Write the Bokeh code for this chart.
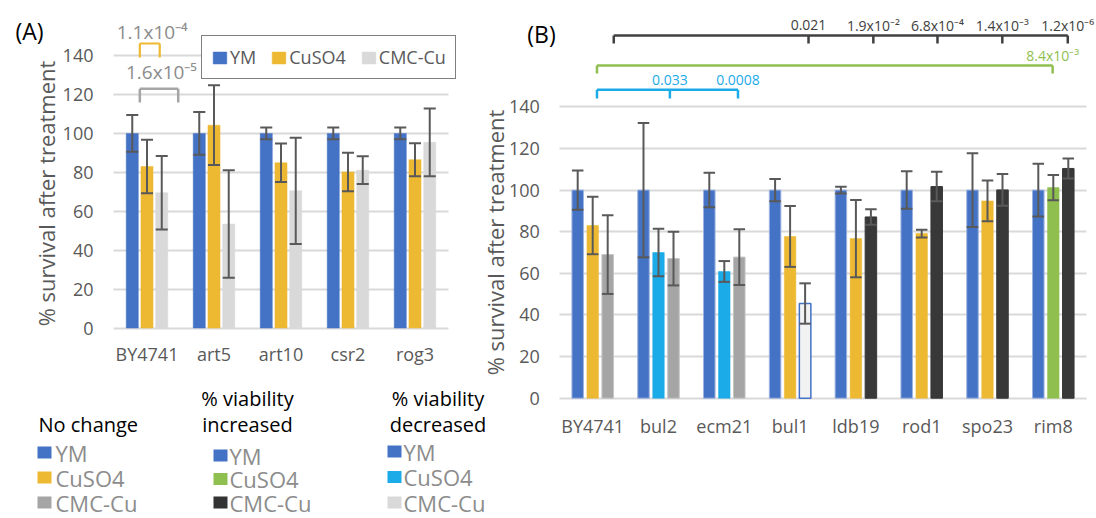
import math
from bokeh.plotting import figure
from bokeh.models import (Range1d, FixedTicker, Legend, LegendItem, Label, ColumnDataSource,
                          LinearAxis, Grid)
from bokeh.core.properties import value
from bokeh.embed import file_html
from bokeh.resources import INLINE

# ---------------- data ----------------
cats_a = ["BY4741", "art5", "art10", "csr2", "rog3"]
a_ym = [100, 100, 100, 100, 100]
a_ym_err = [9.4, 11.0, 3.0, 3.0, 3.0]
a_cu = [83, 104.2, 84.9, 80.2, 86.5]
a_cu_err = [13.7, 20.5, 9.9, 9.9, 8.5]
a_cmc = [69.5, 53.4, 70.5, 81.1, 95.4]
a_cmc_err = [18.9, 27.6, 27.3, 7.1, 17.4]
a_series = ["YM", "CuSO4", "CMC-Cu"]
a_pvals = ["1.1x10\u207b\u2074", "1.6x10\u207b\u2075"]

cats_b = ["BY4741", "bul2", "ecm21", "bul1", "ldb19", "rod1", "spo23", "rim8"]
b_ym = [100, 100, 100, 100, 100, 100, 100, 100]
b_ym_err = [9.4, 32.3, 8.3, 5.3, 1.6, 9.0, 17.7, 12.7]
b_cu = [83, 70, 60.9, 77.7, 76.7, 79.1, 94.8, 101.2]
b_cu_err = [13.8, 11.4, 5.0, 14.6, 18.6, 1.9, 9.8, 6.1]
b_cmc = [69, 67.1, 67.8, 45.5, 87.1, 101.7, 100.1, 110.4]
b_cmc_err = [18.9, 12.9, 13.4, 9.7, 3.7, 7.1, 7.6, 4.8]
b_black_pvals = ["0.021", "1.9x10\u207b\u00b2", "6.8x10\u207b\u2074", "1.4x10\u207b\u00b3", "1.2x10\u207b\u2076"]
b_green_pvals = ["8.4x10\u207b\u00b3"]
b_blue_pvals = ["0.033", "0.0008"]

y_ticks = [0, 20, 40, 60, 80, 100, 120, 140]
y_title = "% survival after treatment"
legend_titles = [["No change"], ["% viability", "increased"], ["% viability", "decreased"]]
legend_labels = ["YM", "CuSO4", "CMC-Cu"]

# ---------------- styles / layout ----------------
W, H = 1096, 518
FONT = "Open Sans"
AX = "#595959"
BLUE = "#4472c4"
YEL = "#edb932"
GRA_L = "#d9d9d9"
GRA = "#a5a5a5"
CYAN = "#1aabe8"
GREEN = "#8fbf4f"
BLACK = "#383838"
LIGHT = "#f2f2f2"
ERR = "#595959"

b_cu_fill = [YEL, CYAN, CYAN, YEL, YEL, YEL, YEL, GREEN]
b_cmc_fill = [GRA, GRA, GRA, LIGHT, BLACK, BLACK, BLACK, BLACK]
b_cmc_line = ["#c4c4c4", "#c4c4c4", "#c4c4c4", BLUE, BLACK, BLACK, BLACK, BLACK]
b_cmc_lw = [1, 1, 1, 1.5, 1, 1, 1, 1]

# panel geometry in page pixels: left edge of plot area, category width, y of zero, px per unit
A_LEFT, A_CATW, A_ZERO, A_PPU = 113.0, 67.0, 327.5, 1.946
B_LEFT, B_CATW, B_ZERO, B_PPU = 559.3, 65.8, 397.7, 2.081

p = figure(width=W, height=H, x_range=Range1d(0, W), y_range=Range1d(H, 0),
           x_axis_type=None, y_axis_type=None, output_backend="svg",
           toolbar_location=None, min_border=0)
p.title.visible = False
p.outline_line_color = None
p.extra_x_ranges = {
    "xa": Range1d(-A_LEFT / A_CATW - 0.5, (W - A_LEFT) / A_CATW - 0.5),
    "xb": Range1d(-B_LEFT / B_CATW - 0.5, (W - B_LEFT) / B_CATW - 0.5),
}
p.extra_y_ranges = {
    "ya": Range1d((A_ZERO - H) / A_PPU, A_ZERO / A_PPU),
    "yb": Range1d((B_ZERO - H) / B_PPU, B_ZERO / B_PPU),
}


def style_axis(ax, standoff):
    ax.axis_line_color = None
    ax.major_tick_line_color = None
    ax.minor_tick_line_color = None
    ax.major_tick_out = 0
    ax.major_tick_in = 0
    ax.major_label_text_font = FONT
    ax.major_label_text_font_size = "18px"
    ax.major_label_text_color = AX
    ax.major_label_standoff = standoff


def make_panel(cats, xr, yr, x_standoff):
    n = len(cats)
    xax = LinearAxis(x_range_name=xr, y_range_name=yr, fixed_location=0,
                     ticker=FixedTicker(ticks=list(range(n))),
                     major_label_overrides={i: c for i, c in enumerate(cats)})
    style_axis(xax, x_standoff)
    p.add_layout(xax, "below")
    yax = LinearAxis(x_range_name=xr, y_range_name=yr, fixed_location=-0.5,
                     ticker=FixedTicker(ticks=y_ticks))
    style_axis(yax, 20)
    p.add_layout(yax, "left")
    try:
        g = Grid(dimension=1, ticker=FixedTicker(ticks=y_ticks), x_range_name=xr, y_range_name=yr,
                 cross_bounds=(-0.5, n - 0.5), grid_line_color="#d9d9d9", grid_line_width=2)
        p.add_layout(g)
    except AttributeError:
        p.segment(x0=[-0.5] * len(y_ticks), x1=[n - 0.5] * len(y_ticks), y0=y_ticks, y1=y_ticks,
                  line_color="#d9d9d9", line_width=2, x_range_name=xr, y_range_name=yr, level="underlay")


def add_bars(vals, errs, offset, width, fill, line, lw, xr, yr):
    xs = [i + offset for i in range(len(vals))]
    src = ColumnDataSource(dict(x=xs, top=vals, fill=fill, line=line, lw=lw))
    r = p.vbar(x="x", top="top", bottom=0, width=width, source=src, fill_color="fill",
               line_color="line", line_width="lw", x_range_name=xr, y_range_name=yr)
    lo = [v - e for v, e in zip(vals, errs)]
    hi = [v + e for v, e in zip(vals, errs)]
    hw = width / 2
    kw = dict(line_color=ERR, line_width=2, x_range_name=xr, y_range_name=yr)
    p.segment(x0=xs, y0=lo, x1=xs, y1=hi, **kw)
    p.segment(x0=[x - hw for x in xs], y0=lo, x1=[x + hw for x in xs], y1=lo, **kw)
    p.segment(x0=[x - hw for x in xs], y0=hi, x1=[x + hw for x in xs], y1=hi, **kw)
    return r


def bracket(xs, ytop, ybot, color, lw, xr, yr):
    kw = dict(line_color=color, line_width=lw, x_range_name=xr, y_range_name=yr)
    p.segment(x0=[min(xs)], y0=[ytop], x1=[max(xs)], y1=[ytop], **kw)
    p.segment(x0=xs, y0=[ytop] * len(xs), x1=xs, y1=[ybot] * len(xs), **kw)


def ptext(xs, y, texts, color, size, xr, yr):
    p.text(x=xs, y=[y] * len(xs), text=texts, text_color=color, text_font=value(FONT),
           text_font_size=value(size), text_align="center", text_baseline="middle",
           x_range_name=xr, y_range_name=yr)


# ---------------- panel A ----------------
nA = len(cats_a)
make_panel(cats_a, "xa", "ya", 14)
wA, oA = 0.18, 0.22
rA1 = add_bars(a_ym, a_ym_err, -oA, wA, [BLUE] * nA, [BLUE] * nA, [0.5] * nA, "xa", "ya")
rA2 = add_bars(a_cu, a_cu_err, 0, wA, [YEL] * nA, [YEL] * nA, [0.5] * nA, "xa", "ya")
rA3 = add_bars(a_cmc, a_cmc_err, oA, wA, [GRA_L] * nA, [GRA_L] * nA, [0.5] * nA, "xa", "ya")

bracket([-0.107, 0.19], 146.2, 139.0, YEL, 2.2, "xa", "ya")
bracket([-0.107, 0.466], 123.0, 115.9, GRA, 2.5, "xa", "ya")
ptext([0.078], 152.3, [a_pvals[0]], "#8c8c8c", "19px", "xa", "ya")
ptext([0.216], 131.4, [a_pvals[1]], "#8c8c8c", "19px", "xa", "ya")

legA = Legend(items=[LegendItem(label=value(s), renderers=[r]) for s, r in zip(a_series, [rA1, rA2, rA3])],
              orientation="horizontal", location=(201, H - 79), glyph_width=17, glyph_height=15,
              label_standoff=2, spacing=14, padding=9, margin=0,
              border_line_color="black", border_line_width=1.5,
              background_fill_color="white", background_fill_alpha=1,
              label_text_font=FONT, label_text_font_size="18px", label_text_color=AX)
p.add_layout(legA)

# ---------------- panel B ----------------
nB = len(cats_b)
make_panel(cats_b, "xb", "yb", 16)
wB, oB = 0.175, 0.228
add_bars(b_ym, b_ym_err, -oB, wB, [BLUE] * nB, ["#9db3e0"] * nB, [1] * nB, "xb", "yb")
add_bars(b_cu, b_cu_err, 0, wB, b_cu_fill, b_cu_fill, [0.5] * nB, "xb", "yb")
add_bars(b_cmc, b_cmc_err, oB, wB, b_cmc_fill, b_cmc_line, b_cmc_lw, "xb", "yb")

ci = {c: i for i, c in enumerate(cats_b)}
black_pos = [ci["BY4741"] + 0.32, ci["bul1"] + 0.28, ci["ldb19"] + 0.265, ci["rod1"] + 0.24,
             ci["spo23"] + 0.225, ci["rim8"] + 0.22]
green_pos = [ci["BY4741"] + 0.065, ci["rim8"] - 0.01]
blue_pos = [ci["BY4741"] + 0.065, ci["bul2"] + 0.173, ci["ecm21"] + 0.208]
bracket(black_pos, 174.3, 170.4, "#404040", 2.5, "xb", "yb")
bracket(green_pos, 159.9, 156.0, GREEN, 2.5, "xb", "yb")
bracket(blue_pos, 148.2, 144.0, CYAN, 2.5, "xb", "yb")
ptext(black_pos[1:], 179.1, b_black_pvals, "#404040", "14px", "xb", "yb")
ptext(green_pos[1:], 164.7, b_green_pvals, GREEN, "14px", "xb", "yb")
ptext(blue_pos[1:], 153.1, b_blue_pvals, CYAN, "14px", "xb", "yb")

# ---------------- panel letters and y titles (page pixel coordinates) ----------------
for txt, x, y in [("(A)", 29, 30.5), ("(B)", 541, 33)]:
    p.add_layout(Label(x=x, y=y, text=txt, text_align="center", text_baseline="middle",
                       text_font=FONT, text_font_size="23px", text_color="black"))
for x, y in [(45, 193), (494, 242)]:
    p.add_layout(Label(x=x, y=y, text=y_title, angle=math.pi / 2, text_align="center",
                       text_baseline="alphabetic", text_font=FONT, text_font_size="22px",
                       text_color=AX))

# ---------------- bottom-left legend (page pixel coordinates) ----------------
leg_cols = [
    dict(sq=44, tx=55, rows=[452, 477, 502], colors=[BLUE, YEL, GRA], title_x=38, align="left"),
    dict(sq=220, tx=229, rows=[455, 478.5, 502], colors=[BLUE, GREEN, "#333333"], title_x=247, align="center"),
    dict(sq=394, tx=403, rows=[451, 476.5, 502], colors=[BLUE, CYAN, GRA_L], title_x=437.5, align="center"),
]
title_rows = [398, 424]
for col, titles in zip(leg_cols, legend_titles):
    p.rect(x=[col["sq"]] * 3, y=col["rows"], width=14, height=12, fill_color=col["colors"], line_color=None)
    p.text(x=[col["tx"]] * 3, y=col["rows"], text=legend_labels, text_color="#8c8c8c",
           text_font=value(FONT), text_font_size=value("22px"), text_align="left", text_baseline="middle")
    ys = title_rows[-len(titles):]
    p.text(x=[col["title_x"]] * len(titles), y=ys, text=titles, text_color="black",
           text_font=value(FONT), text_font_size=value("20px"), text_align=col["align"],
           text_baseline="middle")

open("out.html", "w").write(file_html(p, INLINE))
